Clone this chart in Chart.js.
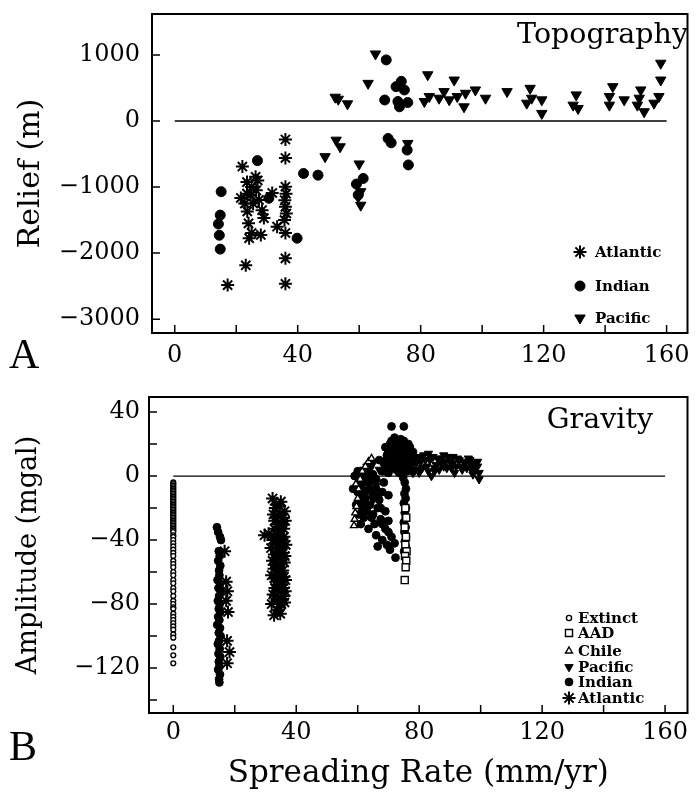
<!DOCTYPE html>
<html>
<head>
<meta charset="utf-8">
<script src="https://cdn.jsdelivr.net/npm/chart.js@4.4.1/dist/chart.umd.min.js"></script>
<style>
  html, body { margin: 0; padding: 0; background: #fff; }
  #wrap { position: relative; width: 696px; height: 793px; }
  canvas { position: absolute; left: 0; }
  #topo { top: 0; }
  #grav { top: 380px; }
</style>
</head>
<body>
<div id="wrap">
  <canvas id="topo" width="696" height="380"></canvas>
  <canvas id="grav" width="696" height="413"></canvas>
</div>
<script>
// ---- axis ticks ----
const xTickLabels = [0, 40, 80, 120, 160];
const xMinorTicks = [0, 20, 40, 60, 80, 100, 120, 140, 160];
const topoYTicks = [1000, 0, -1000, -2000, -3000];
const gravYTicks = [40, 0, -40, -80, -120];
const gravYMinor = [40, 20, 0, -20, -40, -60, -80, -100, -120, -140];
const zeroLineX = [0, 160];

// ---- A: topography (spreading rate mm/yr, relief m) ----
const topoAtlantic = [
  [22.0, -690], [26.3, -845], [23.5, -925], [24.7, -1120], [21.5, -1165], [27.4, -1195],
  [23.6, -1370], [28.4, -1350], [29.0, -1470], [31.7, -1090], [25.0, -1695], [24.2, -1775],
  [28.0, -1725], [23.1, -2185], [17.2, -2485], [25.0, -1000], [26.5, -1050], [23.5, -1100],
  [25.5, -1250], [27.0, -900], [24.0, -1550], [22.8, -1250],
  [36.0, -280], [36.0, -560], [36.0, -995], [36.2, -1100], [35.8, -1200], [36.0, -1300],
  [36.3, -1400], [35.7, -1500], [33.3, -1600], [36.0, -1695], [36.0, -2080], [36.0, -2465]
];
const topoIndian = [
  [15.1, -1070], [14.8, -1425], [14.2, -1560], [14.5, -1730], [14.8, -1940],
  [26.9, -600], [30.6, -1170], [39.8, -1775], [41.9, -795], [46.6, -820],
  [59.1, -955], [61.3, -870], [59.7, -1120],
  [68.8, 925], [68.3, 318], [73.7, 600], [72.0, 520], [74.7, 470], [72.6, 295],
  [75.8, 280], [73.1, 215], [69.4, -265], [70.4, -330], [75.6, -440], [76.0, -665]
];
const topoPacific = [
  [65.3, 1015], [62.9, 570], [52.2, 360], [53.2, 330], [56.2, 260],
  [52.5, -290], [53.8, -390], [48.9, -540], [60.0, -650], [60.5, -1070], [59.7, -1150],
  [60.5, -1275], [75.8, -340],
  [82.3, 700], [90.9, 620], [81.2, 295], [82.8, 370], [86.0, 345], [87.6, 445],
  [89.3, 320], [91.9, 370], [94.1, 215], [94.6, 420], [97.8, 470], [101.1, 345],
  [108.1, 445], [115.6, 495], [114.5, 270], [116.1, 345], [119.4, 320], [119.4, 115],
  [130.6, 395], [129.6, 240], [131.2, 190], [142.5, 520], [141.4, 370], [141.4, 240],
  [146.2, 320], [151.6, 470], [151.1, 345], [150.5, 240], [152.7, 140], [158.1, 875],
  [158.1, 620], [157.5, 370], [155.9, 270]
];

// ---- B: gravity (spreading rate mm/yr, amplitude mgal) ----
const gravExtinct = [
  [0, -4], [0, -5], [0, -6], [0, -7], [0, -8], [0, -9], [0, -10], [0, -11], [0, -12], [0, -13],
  [0, -14], [0, -15], [0, -16], [0, -17], [0, -18], [0, -19], [0, -20], [0, -21], [0, -22],
  [0, -23], [0, -24], [0, -25], [0, -26], [0, -27], [0, -28], [0, -29], [0, -30], [0, -31],
  [0, -32], [0, -33], [0, -34], [0, -35], [0, -37], [0, -38], [0, -40], [0, -42], [0, -44],
  [0, -46], [0, -48], [0, -50], [0, -53], [0, -55], [0, -57], [0, -60], [0, -62], [0, -65],
  [0, -67], [0, -70], [0, -72], [0, -75], [0, -78], [0, -80], [0, -82], [0, -83], [0, -86],
  [0, -88], [0, -90], [0, -92], [0, -94], [0, -96], [0, -99], [0, -101], [0, -107], [0, -112],
  [0, -117]
];
const gravAAD = [
  [75.5, -20], [75.8, -26], [75.3, -32], [75.7, -38], [75.5, -43], [75.9, -47],
  [75.4, -50], [75.8, -53], [75.6, -57], [75.3, -65]
];
const gravChile = [
  [58.8, -31], [59.0, -27], [59.2, -23], [59.6, -19], [60.0, -14], [60.3, -8],
  [60.8, -2], [61.5, 3], [62.5, 6], [63.5, 9], [64.5, 11], [59.4, -5]
];
const gravPacific = [
  [61, 2], [62, 4], [63, 6], [64, 2], [65, 8], [66, -6], [67, 4], [64.5, -3], [63, -10],
  [65, -15], [62, -18], [61, -12], [78, 2], [84, 0], [79, 8], [80, 12], [81, 5], [82, 10],
  [83, 14], [85, 3], [86, 11], [87, 8], [88, 13], [89, 5], [90, 9], [91, 12], [92, 6],
  [93, 10], [94, 4], [95, 8], [96, 11], [97, 7], [98, 3], [99, 9], [99.5, -2], [98.5, 5],
  [97.5, 1], [91.5, 2], [88.5, 9], [85.5, 7],
  [78.5, 11], [79.5, 4], [80.5, 9], [81.5, 13], [82.5, 6], [83.5, 10], [84.5, 12], [85, 5],
  [86.5, 4], [87.5, 11], [88, 6], [89.5, 12], [90.5, 5], [91, 8], [92.5, 11], [93.5, 6],
  [94.5, 9], [95.5, 5], [96.5, 10], [97, 4], [98, 8], [99, 6], [99.5, 2], [80, 2], [83, 3]
];
const gravIndian = [
  [14.2, -32], [14.6, -35], [15.2, -38], [15.5, -40], [14.8, -47], [15.1, -50], [14.6, -53],
  [15.3, -56], [14.9, -59], [15.0, -62], [14.4, -65], [15.2, -67], [14.7, -70], [15.4, -72],
  [14.9, -75], [14.5, -78], [15.1, -80], [14.8, -83], [15.3, -85], [14.6, -88], [15.0, -90],
  [14.3, -93], [15.2, -95], [14.8, -98], [15.4, -100], [14.9, -103], [14.5, -105], [15.1, -108],
  [14.7, -111], [15.3, -113], [14.8, -116], [15.0, -119], [14.6, -121], [15.2, -124],
  [14.9, -127], [15.0, -129],
  [61, -5], [62, -9], [63.5, -3], [62.5, -14], [64, -18], [65, -12], [66, -8], [63, -22],
  [64.5, -26], [66.5, -20], [67, -15], [68, -10], [65.5, -30], [63.5, -33], [67.5, -27],
  [69, -22], [66, -37], [68, -40], [69.5, -43], [70, -35], [60, -10], [59.5, -18],
  [60.5, -24], [61, -30], [68.5, -4], [70, -12],
  [58.5, -8], [59, 0], [60, 3], [60.5, -15], [61.5, -20], [62, -26], [62.5, 0], [63, -4],
  [64, -8], [64, 6], [65, 1], [66, -2], [66.5, -13], [67.5, -20], [68, -30], [69, -33],
  [70, -28], [71, -38], [72, -42], [70.5, -46], [66.5, -44], [65, -24],
  [68, 3], [69, 6], [70, 9], [71, 12], [72, 15], [73, 18], [74, 20], [75, 14], [76, 10],
  [77, 6], [78, 3], [70, 2], [71.5, 5], [73, 8], [74.5, 11], [76, 16], [72, 19], [70.5, 16],
  [69.5, 13], [75, 4], [77, 12], [73.5, 2], [71, 22], [74, 23], [76.5, 20], [72.5, 11],
  [75.5, 7], [71, 31], [75, 31], [69, 18], [67, 10], [78, 9],
  [68.5, 8], [69.5, 10], [70, 15], [70.5, 20], [71.5, 18], [72, 8], [72.5, 4], [73, 13],
  [73.5, 16], [74, 7], [74, 14], [74.5, 18], [75, 10], [75.5, 17], [76, 6], [76.5, 13],
  [77, 18], [77.5, 9], [78, 15], [73, 22], [72, 24], [75, 22], [70, 5], [71, 9], [69, 3],
  [76, 3], [77.5, 4], [71.5, 14],
  [74.8, -1], [75.3, -4], [75.7, -8], [75.2, -11], [75.6, -14], [75.0, -17], [75.7, -20],
  [75.3, -23], [75.6, -26], [75.0, -29], [75.6, -32], [75.2, -35], [75.7, -38], [75.3, -41],
  [75.6, -44], [75.1, -47], [72.3, -51]
];
const gravAtlantic = [
  [16.7, -47], [17.2, -66], [17.6, -72], [17.2, -78], [17.8, -85], [17.5, -103], [18.3, -110],
  [17.5, -117],
  [32.3, -14], [33.5, -18], [35.0, -16], [36.2, -22], [34.0, -25], [33.0, -28], [35.5, -30],
  [29.7, -37], [31.0, -36], [34.5, -34], [36.0, -38], [33.2, -42], [35.2, -44], [34.0, -47],
  [36.3, -50], [33.5, -52], [35.0, -55], [32.8, -58], [34.8, -60], [36.0, -63], [33.4, -66],
  [35.3, -68], [34.0, -71], [32.5, -74], [36.0, -75], [33.8, -78], [35.2, -80], [34.4, -82],
  [32.8, -87], [36.5, -65], [31.8, -45], [32.0, -62], [35.8, -26], [33.0, -33], [34.2, -40],
  [35.7, -48], [33.6, -57], [34.9, -72], [33.1, -70],
  [33.2, -20], [34.6, -19], [36.4, -28], [32.6, -24], [34.2, -30], [35.9, -33], [33.7, -37],
  [32.4, -40], [35.4, -39], [36.6, -43], [34.6, -45], [32.9, -49], [34.3, -51], [36.1, -54],
  [33.9, -55], [32.3, -53], [35.6, -59], [34.2, -62], [33.0, -64], [35.8, -70], [34.6, -66],
  [36.4, -72], [33.3, -75], [35.0, -77], [33.9, -84], [36.2, -79], [34.8, -86], [32.0, -80]
];

const FONT = "'DejaVu Serif', 'Liberation Serif', serif";
const minus = v => (v < 0 ? '\u2212' + Math.abs(v) : String(v));
const pts = arr => arr.map(([x, y]) => ({ x, y }));
const zeroLine = zeroLineX.map(x => ({ x, y: 0 }));

function series(label, data, style) {
  return Object.assign({
    label, data: pts(data),
    pointBackgroundColor: '#000', pointBorderColor: '#000',
    pointBorderWidth: 1, pointRotation: 0
  }, style);
}

function zeroDataset() {
  return {
    type: 'line', label: 'zero', data: zeroLine, borderColor: '#000',
    borderWidth: 1.3, pointRadius: 0, order: 10
  };
}

// draws the box, inward ticks, panel title, panel letter and the in-plot legend
const framePlugin = {
  id: 'frame',
  afterDatasetsDraw(chart, args, o) {
    const { ctx, chartArea: a, scales: { x, y } } = chart;
    ctx.save();
    ctx.strokeStyle = '#000';
    ctx.lineWidth = 2;
    ctx.strokeRect(a.left, a.top, a.right - a.left, a.bottom - a.top);
    ctx.lineWidth = 1.5;
    ctx.beginPath();
    o.xTicks.forEach(v => {
      const px = x.getPixelForValue(v);
      ctx.moveTo(px, a.bottom); ctx.lineTo(px, a.bottom - 8);
    });
    o.yTicks.forEach(v => {
      const py = y.getPixelForValue(v);
      ctx.moveTo(a.left, py); ctx.lineTo(a.left + 8, py);
    });
    ctx.stroke();

    ctx.fillStyle = '#000';
    ctx.textBaseline = 'alphabetic';
    ctx.font = '28.5px ' + FONT;
    ctx.textAlign = 'right';
    ctx.fillText(o.title, o.titleX, o.titleY);
    ctx.textAlign = 'left';
    ctx.font = "42px 'Liberation Serif', serif";
    ctx.fillText(o.letter, 9, o.letterY);

    // legend, taken from the datasets
    ctx.font = 'bold 15px ' + FONT;
    ctx.textBaseline = 'middle';
    o.legend.forEach((name, i) => {
      const ds = chart.data.datasets.find(d => d.label === name);
      const ly = o.legendY[i];
      ctx.fillStyle = ds.pointBackgroundColor;
      ctx.strokeStyle = ds.pointBorderColor;
      ctx.lineWidth = ds.pointBorderWidth;
      Chart.helpers.drawPoint(ctx, {
        pointStyle: ds.pointStyle, radius: ds.legendRadius || ds.pointRadius,
        rotation: ds.pointRotation, borderWidth: ds.pointBorderWidth
      }, o.legendX, ly);
      ctx.fillStyle = '#000';
      ctx.fillText(name, o.legendTextX, ly + 1);
    });
    ctx.restore();
  }
};

function noPad(s) {
  s.paddingTop = 0; s.paddingBottom = 0; s.paddingLeft = 0; s.paddingRight = 0;
}

function baseOptions(cfg) {
  return {
    responsive: false,
    animation: false,
    layout: { padding: cfg.padding },
    plugins: { legend: { display: false }, tooltip: { enabled: false }, frame: cfg.frame },
    scales: {
      x: {
        type: 'linear', min: cfg.xMin, max: cfg.xMax,
        grid: { display: false, drawTicks: false }, border: { display: false },
        afterBuildTicks: s => { s.ticks = xTickLabels.map(v => ({ value: v })); },
        afterFit: s => { s.height = cfg.xHeight; noPad(s); },
        ticks: { color: '#000', padding: cfg.xPad, maxRotation: 0, font: { family: FONT, size: 24 }, callback: minus },
        title: cfg.xTitle
      },
      y: {
        type: 'linear', min: cfg.yMin, max: cfg.yMax,
        grid: { display: false, drawTicks: false }, border: { display: false },
        afterBuildTicks: s => { s.ticks = cfg.yTicks.map(v => ({ value: v })); },
        afterFit: s => { s.width = cfg.yWidth; noPad(s); },
        ticks: { color: '#000', padding: cfg.yPad, font: { family: FONT, size: 24 }, callback: minus },
        title: {
          display: true, text: cfg.yTitle, color: '#000',
          font: { family: FONT, size: cfg.yTitleSize }, padding: { top: 13, bottom: 0 }
        }
      }
    }
  };
}

// ---- panel A ----
new Chart(document.getElementById('topo'), {
  type: 'scatter',
  data: {
    datasets: [
      series('Atlantic', topoAtlantic, { pointStyle: 'star', pointRadius: 6.5, pointBorderWidth: 2 }),
      series('Indian', topoIndian, { pointStyle: 'circle', pointRadius: 5 }),
      series('Pacific', topoPacific, { pointStyle: 'triangle', pointRadius: 6, pointRotation: 180 }),
      zeroDataset()
    ]
  },
  options: baseOptions({
    padding: { left: 0, right: 4, top: 14, bottom: 0 },
    xMin: -7.4, xMax: 166.8, yMin: -3210, yMax: 1620,
    xHeight: 47, yWidth: 152, xPad: 8, yPad: 12, yTicks: topoYTicks,
    yTitle: 'Relief (m)', yTitleSize: 30, xTitle: { display: false },
    frame: {
      xTicks: xMinorTicks, yTicks: topoYTicks,
      title: 'Topography', titleX: 688, titleY: 43, letter: 'A', letterY: 368,
      legend: ['Atlantic', 'Indian', 'Pacific'], legendY: [252, 286, 318],
      legendX: 580, legendTextX: 595
    }
  }),
  plugins: [framePlugin]
});

// ---- panel B ----
new Chart(document.getElementById('grav'), {
  type: 'scatter',
  data: {
    datasets: [
      series('Extinct', gravExtinct, { pointStyle: 'circle', pointRadius: 2.4, pointBackgroundColor: '#fff', pointBorderWidth: 1.4, legendRadius: 2.6 }),
      series('AAD', gravAAD, { pointStyle: 'rect', pointRadius: 5, pointBackgroundColor: '#fff', pointBorderWidth: 1.4 }),
      series('Chile', gravChile, { pointStyle: 'triangle', pointRadius: 4, pointBackgroundColor: '#fff', pointBorderWidth: 1.4 }),
      series('Pacific', gravPacific, { pointStyle: 'triangle', pointRadius: 4.8, pointRotation: 180 }),
      series('Indian', gravIndian, { pointStyle: 'circle', pointRadius: 3.9 }),
      series('Atlantic', gravAtlantic, { pointStyle: 'star', pointRadius: 6.5, pointBorderWidth: 2 }),
      zeroDataset()
    ]
  },
  options: baseOptions({
    padding: { left: 0, right: 4, top: 17, bottom: 0 },
    xMin: -7.9, xMax: 167.3, yMin: -148.1, yMax: 49.4,
    xHeight: 80, yWidth: 149, xPad: 5, yPad: 9, yTicks: gravYTicks,
    yTitle: 'Amplitude (mgal)', yTitleSize: 27,
    xTitle: {
      display: true, text: 'Spreading Rate (mm/yr)', color: '#000',
      font: { family: FONT, size: 31 }, padding: { top: 0, bottom: 0 }
    },
    frame: {
      xTicks: xMinorTicks, yTicks: gravYMinor,
      title: 'Gravity', titleX: 653, titleY: 48, letter: 'B', letterY: 380,
      legend: ['Extinct', 'AAD', 'Chile', 'Pacific', 'Indian', 'Atlantic'],
      legendY: [238, 253, 271, 287, 302, 318],
      legendX: 569, legendTextX: 578
    }
  }),
  plugins: [framePlugin]
});
</script>
</body>
</html>
